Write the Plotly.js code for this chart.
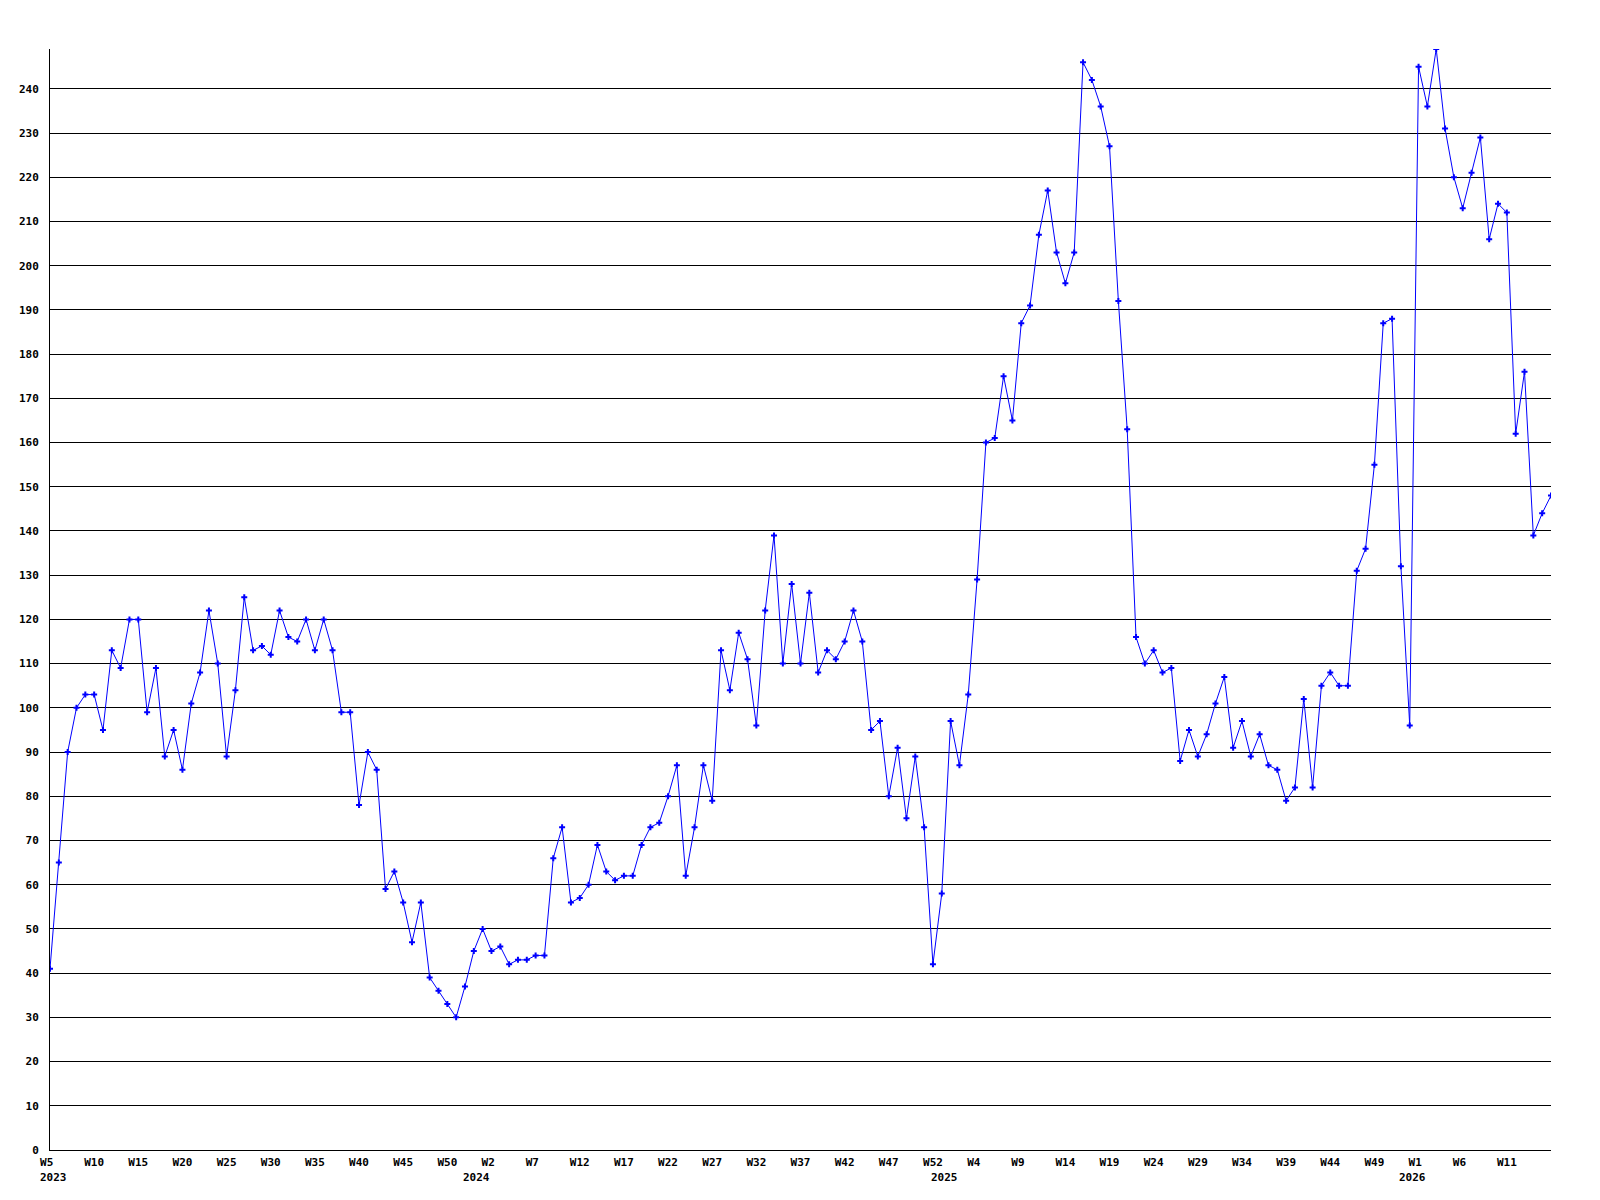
<!DOCTYPE html>
<html>
<head>
<meta charset="utf-8">
<script src="https://cdn.plot.ly/plotly-3.0.1.min.js"></script>
<style>html,body{margin:0;padding:0;background:#fff;}#chart{width:1600px;height:1200px;}</style>
</head>
<body>
<div id="chart"></div>
<script>
// Weekly series: 2023 W5 .. 2026 W16 (weeks numbered W1..W53 each year)
const startYear = 2023;
const startWeek = 5;
const weeksPerYear = 53;
const values = [
  41, 65, 90, 100, 103, 103, 95, 113, 109, 120,
  120, 99, 109, 89, 95, 86, 101, 108, 122, 110,
  89, 104, 125, 113, 114, 112, 122, 116, 115, 120,
  113, 120, 113, 99, 99, 78, 90, 86, 59, 63,
  56, 47, 56, 39, 36, 33, 30, 37, 45, 50,
  45, 46, 42, 43, 43, 44, 44, 66, 73, 56,
  57, 60, 69, 63, 61, 62, 62, 69, 73, 74,
  80, 87, 62, 73, 87, 79, 113, 104, 117, 111,
  96, 122, 139, 110, 128, 110, 126, 108, 113, 111,
  115, 122, 115, 95, 97, 80, 91, 75, 89, 73,
  42, 58, 97, 87, 103, 129, 160, 161, 175, 165,
  187, 191, 207, 217, 203, 196, 203, 246, 242, 236,
  227, 192, 163, 116, 110, 113, 108, 109, 88, 95,
  89, 94, 101, 107, 91, 97, 89, 94, 87, 86,
  79, 82, 102, 82, 105, 108, 105, 105, 131, 136,
  155, 187, 188, 132, 96, 245, 236, 249, 231, 220,
  213, 221, 229, 206, 214, 212, 162, 176, 139, 144,
  148
];
const tickWeeks = [
  "2023-W5","2023-W10","2023-W15","2023-W20","2023-W25","2023-W30","2023-W35","2023-W40","2023-W45","2023-W50",
  "2024-W2","2024-W7","2024-W12","2024-W17","2024-W22","2024-W27","2024-W32","2024-W37","2024-W42","2024-W47","2024-W52",
  "2025-W4","2025-W9","2025-W14","2025-W19","2025-W24","2025-W29","2025-W34","2025-W39","2025-W44","2025-W49",
  "2026-W1","2026-W6","2026-W11"
];
const yearLabels = ["2023", "2024", "2025", "2026"];
const yearWeeks = ["2023-W5", "2024-W1", "2025-W1", "2026-W1"];

// Build the category keys for every weekly point
const weeks = [];
let y = startYear, w = startWeek;
for (let i = 0; i < values.length; i++) {
  weeks.push(y + "-W" + w);
  w++;
  if (w > weeksPerYear) { w = 1; y++; }
}
// labels are left-aligned on a 3-character cell around the tick: pad short ones
const tickText = tickWeeks.map(k => {
  let s = k.split("-")[1];
  while (s.length < 3) s += "\u00a0";
  return s;
});

const font = {family: "DejaVu Sans Mono, monospace", size: 11, color: "#000", weight: "bold"};

const trace = {
  type: "scatter",
  mode: "lines+markers",
  x: weeks,
  y: values,
  line: {color: "#0000ff", width: 1},
  marker: {color: "#0000ff", symbol: "cross", size: 5, line: {width: 0}},
  hoverinfo: "x+y"
};

const annotations = yearLabels.map((t, i) => ({
  x: weeks.indexOf(yearWeeks[i]),
  xref: "x",
  y: 0,
  yref: "paper",
  yanchor: "middle",
  xanchor: "center",
  yshift: -27,
  xshift: i === 0 ? 3 : -6,
  text: t,
  showarrow: false,
  font: font
}));

const layout = {
  width: 1600,
  height: 1200,
  margin: {l: 50, r: 49, t: 49, b: 50, pad: 0},
  paper_bgcolor: "#fff",
  plot_bgcolor: "#fff",
  showlegend: false,
  font: font,
  xaxis: {
    type: "category",
    categoryorder: "array",
    categoryarray: weeks,
    range: [0, values.length - 1],
    tickmode: "array",
    tickvals: tickWeeks,
    ticktext: tickText,
    tickangle: 0,
    showgrid: false,
    zeroline: false,
    showline: true,
    linecolor: "#000",
    linewidth: 1,
    ticks: "",
    ticklabelstandoff: 2,
    tickfont: font
  },
  yaxis: {
    range: [0, 249],
    tick0: 0,
    dtick: 10,
    showgrid: true,
    gridcolor: "#000",
    gridwidth: 1,
    zeroline: false,
    showline: true,
    linecolor: "#000",
    linewidth: 1,
    ticks: "",
    ticklabelstandoff: 8,
    tickfont: font
  },
  annotations: annotations
};

Plotly.newPlot("chart", [trace], layout, {displayModeBar: false, staticPlot: true});
</script>
</body>
</html>
